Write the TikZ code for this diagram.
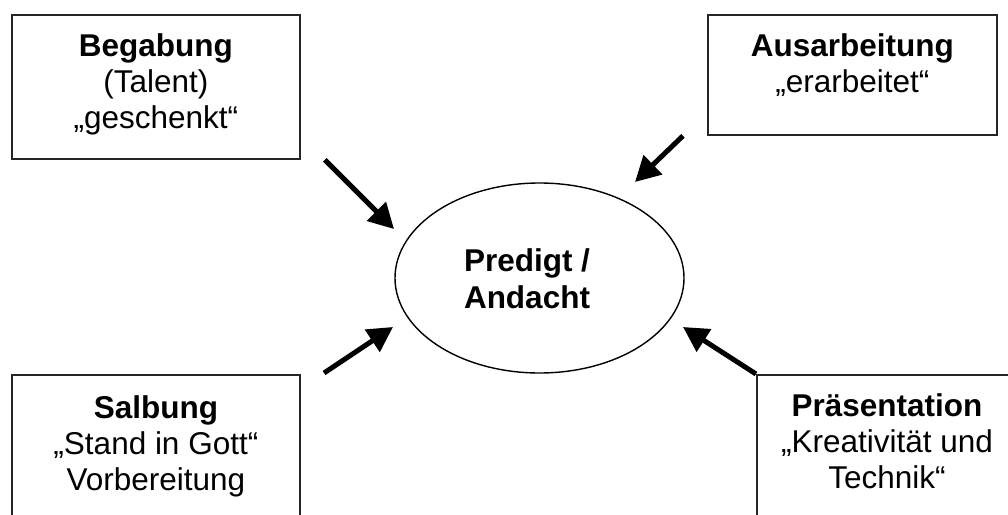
\documentclass[tikz,border=0pt]{standalone}
\usepackage{fontspec}
\setmainfont{Liberation Sans}
\usetikzlibrary{arrows.meta,shapes.geometric}
\begin{document}
\begin{tikzpicture}[x=1pt,y=-1pt,
  box/.style={draw, line width=1.8pt, draw=black!85, inner sep=0pt, anchor=north west},
  txt/.style={align=center, inner sep=0pt, anchor=north, font=\fontsize{31.5}{36}\selectfont},
  arr/.style={line width=5pt, -{Triangle[length=25pt,width=26pt]}, shorten >=0pt}]
\clip (0,0) rectangle (1008,514);
\fill[white] (0,0) rectangle (1008,514);
% boxes
\node[box, minimum width=288pt, minimum height=144pt] (b1) at (11,14) {};
\node[box, minimum width=289pt, minimum height=120pt] (b2) at (707,14) {};
\node[box, minimum width=288pt, minimum height=170pt] (b3) at (11,374) {};
\node[box, minimum width=270pt, minimum height=170pt] (b4) at (756,374) {};
% texts
\node[txt] (t1) at ([yshift=-19pt]b1.north) {\textbf{Begabung}\\(Talent)\\„geschenkt“};
\node[txt] (t2) at ([yshift=-19pt]b2.north) {\textbf{Ausarbeitung}\\„erarbeitet“};
\node[txt] (t3) at ([yshift=-21pt]b3.north) {\textbf{Salbung}\\„Stand in Gott“\\Vorbereitung};
\node[txt] (t4) at (887,393) {\textbf{Präsentation}\\„Kreativität und\\Technik“};
% ellipse
\node[draw, ellipse, line width=1.4pt, minimum width=289pt, minimum height=190pt, inner sep=0pt] (e) at (539.5,278) {};
\node[txt, anchor=center, font=\fontsize{31.5}{37}\selectfont\bfseries] (et) at (527,278.5) {Predigt /\\Andacht};
% arrow coordinates
\coordinate (s1) at ([xshift=24pt]b1.south east);
\coordinate (e1) at (394,229);
\coordinate (s2) at ([xshift=-24pt]b2.south west);
\coordinate (e2) at (635,182);
\coordinate (s3) at (324,373);
\coordinate (e3) at (393,327);
\coordinate (s4) at (b4.north west);
\coordinate (e4) at (683,327);
\draw[arr] (s1) -- (e1);
\draw[arr] (s2) -- (e2);
\draw[arr] (s3) -- (e3);
\draw[arr] (s4) -- (e4);
\end{tikzpicture}
\end{document}
